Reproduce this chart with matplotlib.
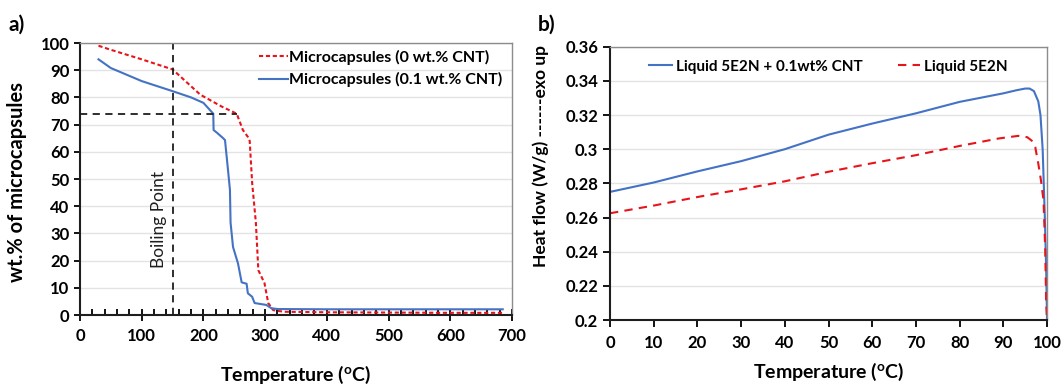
import matplotlib
matplotlib.use("Agg")
import matplotlib.pyplot as plt
from matplotlib.ticker import MultipleLocator

plt.rcParams['font.family'] = ['Lato', 'DejaVu Sans']
plt.rcParams['font.weight'] = 'bold'
plt.rcParams['mathtext.default'] = 'regular'

# ---------- Panel a data (TGA) ----------
temp_cnt0 = [30, 50, 100, 150, 195, 230, 254, 264, 272, 275, 279, 285, 289, 299, 305, 313, 330, 400, 500, 600, 685]
wt_cnt0 = [99, 97.5, 94, 90.3, 81, 76.6, 74, 68, 65.5, 64, 48.5, 34, 16.5, 11.7, 4.4, 1.8, 1.2, 1.0, 0.9, 0.8, 0.8]

temp_cnt01 = [30, 50, 100, 150, 180, 200, 216, 216.5, 222, 232, 235, 240, 243, 244, 248, 256, 262, 270, 272, 279, 283, 302, 310, 320, 400, 500, 600, 685]
wt_cnt01 = [94, 90.8, 86, 82.3, 80, 78, 74, 68, 67, 65, 64.3, 53, 46, 34, 25, 19, 12, 11.5, 8, 6.7, 4.4, 3.7, 2.5, 2.2, 2.1, 2.1, 2.1, 2.1]

boiling_point = 150
onset_wt = 74
onset_temp = 254

# ---------- Panel b data (DSC) ----------
temp_b = [0, 10, 20, 30, 40, 50, 60, 70, 80, 90, 93, 95, 96, 97, 98, 98.5, 99, 99.5, 99.8, 100]
hf_cnt = [0.275, 0.2805, 0.287, 0.293, 0.300, 0.3085, 0.315, 0.321, 0.3277, 0.3327, 0.3345, 0.3355, 0.3355, 0.334, 0.328, 0.320, 0.300, 0.26, 0.23, 0.2]

temp_b2 = [0, 10, 20, 30, 40, 50, 60, 70, 80, 89, 93.4, 95.5, 96.5, 97.3, 98, 98.6, 99.2, 99.6, 99.8, 100]
hf_pure = [0.2625, 0.267, 0.272, 0.2765, 0.2812, 0.2868, 0.2918, 0.2965, 0.3019, 0.3063, 0.3078, 0.3070, 0.3050, 0.3013, 0.2916, 0.282, 0.270, 0.24, 0.21, 0.2]

blue = '#4472C4'
red = '#E8141B'
grid_c = '#E3E3E3'
dark = '#1e1e1e'

fig = plt.figure(figsize=(10.62, 3.85), dpi=100)

# ---------------- Panel a ----------------
ax1 = fig.add_axes([0.0753, 0.1818, 0.4068, 0.7065])
ax1.plot(temp_cnt0, wt_cnt0, color=red, lw=1.5, ls=(0, (2, 1.3)), label='Microcapsules (0 wt.% CNT)')
ax1.plot(temp_cnt01, wt_cnt01, color=blue, lw=1.5, label='Microcapsules (0.1 wt.% CNT)')
ax1.axvline(boiling_point, color=dark, lw=1.3, ls=(0, (4, 3)))
ax1.plot([0, onset_temp], [onset_wt, onset_wt], color=dark, lw=1.3, ls=(0, (4, 3)))
ax1.text(boiling_point - 22, 35, 'Boiling Point', rotation=90, ha='center', va='center',
         fontsize=12.5, fontweight='normal', color=dark)
ax1.set_xlim(0, 700)
ax1.set_ylim(0, 100)
ax1.xaxis.set_major_locator(MultipleLocator(100))
ax1.xaxis.set_minor_locator(MultipleLocator(20))
ax1.yaxis.set_major_locator(MultipleLocator(10))
ax1.grid(axis='y', color=grid_c, lw=1)
ax1.set_axisbelow(True)
ax1.tick_params(axis='x', which='major', direction='inout', length=8, width=1.3, labelsize=12, pad=5)
ax1.tick_params(axis='x', which='minor', direction='in', length=4, width=1.3)
ax1.tick_params(axis='y', which='major', direction='out', length=4, width=1.3, labelsize=12)
for s in ['left', 'bottom']:
    ax1.spines[s].set_linewidth(1.5)
    ax1.spines[s].set_color(dark)
for s in ['top', 'right']:
    ax1.spines[s].set_linewidth(1)
    ax1.spines[s].set_color('#8c8c8c')
for lab in ax1.get_xticklabels() + ax1.get_yticklabels():
    lab.set_fontweight('bold')
ax1.set_xlabel('Temperature ($^{o}$C)', fontsize=14, fontweight='bold', va='center')
ax1.xaxis.set_label_coords(0.499, -0.22)
ax1.set_ylabel('wt.% of microcapsules', fontsize=14.5, fontweight='bold', va='center')
ax1.yaxis.set_label_coords(-0.146, 0.49)
leg1 = ax1.legend(loc='upper right', frameon=False, fontsize=11.5, handlelength=1.8,
                  handletextpad=0.1, borderaxespad=0.2, labelspacing=0.45, bbox_to_anchor=(1.0, 1.01))
for t in leg1.get_texts():
    t.set_fontweight('bold')
fig.text(0.008, 0.935, 'a)', fontsize=15, fontweight='bold', ha='left', va='center')

# ---------------- Panel b ----------------
ax2 = fig.add_axes([0.5744, 0.1688, 0.4115, 0.7099])
ax2.plot(temp_b, hf_cnt, color=blue, lw=1.5, label='Liquid 5E2N + 0.1wt% CNT')
ax2.plot(temp_b2, hf_pure, color=red, lw=1.5, ls=(0, (4, 3)), label='Liquid 5E2N')
ax2.set_xlim(0, 100)
ax2.set_ylim(0.2, 0.36)
ax2.xaxis.set_major_locator(MultipleLocator(10))
ax2.set_yticks([0.2, 0.22, 0.24, 0.26, 0.28, 0.3, 0.32, 0.34, 0.36])
ax2.set_yticklabels(['0.2', '0.22', '0.24', '0.26', '0.28', '0.3', '0.32', '0.34', '0.36'])
ax2.grid(axis='y', color=grid_c, lw=1)
ax2.set_axisbelow(True)
ax2.tick_params(axis='x', direction='out', length=5, width=1.3, labelsize=12, pad=6)
ax2.tick_params(axis='y', direction='out', length=5, width=1.3, labelsize=12)
for s in ['left', 'bottom']:
    ax2.spines[s].set_linewidth(1.5)
    ax2.spines[s].set_color(dark)
for s in ['top', 'right']:
    ax2.spines[s].set_linewidth(1)
    ax2.spines[s].set_color('#8c8c8c')
for lab in ax2.get_xticklabels() + ax2.get_yticklabels():
    lab.set_fontweight('bold')
ax2.set_xlabel('Temperature ($^{o}$C)', fontsize=14, fontweight='bold', va='center')
ax2.xaxis.set_label_coords(0.5, -0.19)
ax2.set_ylabel('Heat flow (W/g) ------exo up', fontsize=12.5, fontweight='bold', va='center')
ax2.yaxis.set_label_coords(-0.158, 0.60)
leg2 = ax2.legend(loc='upper left', ncol=2, frameon=False, fontsize=11, handlelength=1.5,
                  handletextpad=0.25, columnspacing=2.3, borderaxespad=0.0, bbox_to_anchor=(0.075, 0.975))
for t in leg2.get_texts():
    t.set_fontweight('bold')
fig.text(0.506, 0.935, 'b)', fontsize=15, fontweight='bold', ha='left', va='center')

fig.savefig('out.png', dpi=100)
